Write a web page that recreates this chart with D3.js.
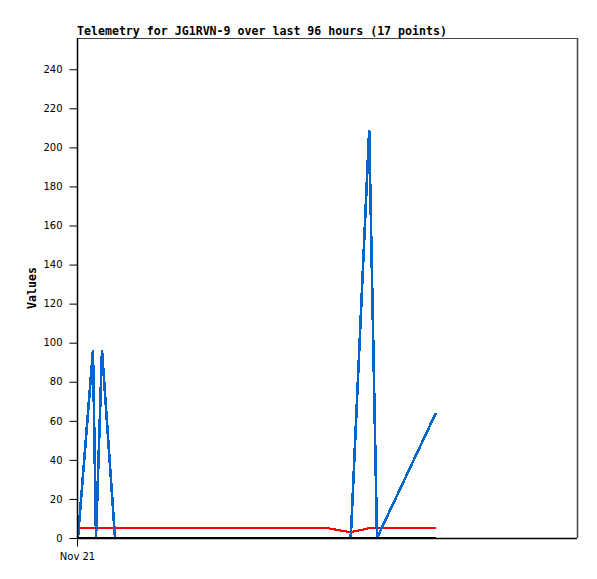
<!DOCTYPE html>
<html>
<head>
<meta charset="utf-8">
<script src="https://cdn.jsdelivr.net/npm/d3@7"></script>
<style>
  body { margin: 0; background: #fff; }
  svg { display: block; }
</style>
</head>
<body>
<svg id="chart" width="597" height="579"></svg>
<script>
// ---- data ----
const titleText = "Telemetry for JG1RVN-9 over last 96 hours (17 points)";
const yLabel = "Values";
const startTime = "2024-11-21T06:00:00";
const hoursSpan = 96;
const times = [
  "2024-11-21T06:11:00", "2024-11-21T09:04:00", "2024-11-21T09:39:00",
  "2024-11-21T10:48:00", "2024-11-21T13:18:00", "2024-11-21T19:20:00",
  "2024-11-22T01:05:00", "2024-11-22T06:50:00", "2024-11-22T13:35:00",
  "2024-11-22T19:20:00", "2024-11-23T01:05:00", "2024-11-23T06:12:00",
  "2024-11-23T10:24:00", "2024-11-23T10:36:00", "2024-11-23T14:06:00",
  "2024-11-23T15:36:00", "2024-11-24T02:54:00"
];
const blueValues  = [0, 96, 0, 96, 0, 0, 0, 0, 0, 0, 0, 0, 0, 2, 209, 0, 64];
const redValues   = [5, 5, 5, 5, 5, 5, 5, 5, 5, 5, 5, 5, 3, 3, 5, 5, 5];
const blackValues = [0, 0, 0, 0, 0, 0, 0, 0, 0, 0, 0, 0, 0, 0, 0, 0, 0];
const yTicks = [0, 20, 40, 60, 80, 100, 120, 140, 160, 180, 200, 220, 240];
const yMax = 256;
const xTickLabels = ["Nov 21"];

// ---- layout ----
const svg = d3.select("#chart");
const pL = 77, pR = 577, pT = 38, pB = 538;
const parse = d3.isoParse;
const t0 = parse(startTime);
const t1 = new Date(t0.getTime() + hoursSpan * 3600 * 1000);

const x = d3.scaleTime().domain([t0, t1]).range([pL, pR]);
const y = d3.scaleLinear().domain([0, yMax]).range([pB, pT]);

// frame top/right
svg.append("line").attr("x1", pL).attr("x2", pR).attr("y1", pT + 0.5).attr("y2", pT + 0.5)
  .attr("stroke", "#444").attr("stroke-width", 1);
svg.append("line").attr("x1", pR + 0.5).attr("x2", pR + 0.5).attr("y1", pT).attr("y2", pB)
  .attr("stroke", "#444").attr("stroke-width", 1.5);

const pts = times.map((t, i) => ({ t: parse(t), b: blueValues[i], r: redValues[i], k: blackValues[i] }));
const mk = key => d3.line().x(d => x(d.t)).y(d => y(d[key]));

svg.append("path").datum(pts).attr("d", mk("r")).attr("fill", "none")
  .attr("stroke", "#ff0000").attr("stroke-width", 2.2).attr("shape-rendering", "crispEdges");
svg.append("path").datum(pts).attr("d", mk("b")).attr("fill", "none")
  .attr("stroke", "#0066cc").attr("stroke-width", 2.6).attr("stroke-linejoin", "miter")
  .attr("shape-rendering", "crispEdges");
svg.append("path").datum(pts).attr("d", mk("k")).attr("fill", "none")
  .attr("stroke", "#000").attr("stroke-width", 2.2).attr("shape-rendering", "crispEdges");

// y axis
const yAxis = d3.axisLeft(y).tickValues(yTicks).tickSize(8).tickPadding(7).tickFormat(d3.format("d"));
const gy = svg.append("g").attr("transform", `translate(${pL + 0.5},0)`).call(yAxis);
gy.select(".domain").attr("stroke", "#000").attr("stroke-width", 1.5).attr("d", `M0,${pT}V${pB}`);
gy.selectAll(".tick line").attr("stroke", "#000");
gy.selectAll(".tick text").attr("font-family", "DejaVu Sans, sans-serif").attr("font-size", "10px").attr("fill", "#000");

// x axis
const xAxis = d3.axisBottom(x).tickValues([t0]).tickSize(8).tickPadding(6).tickFormat((d, i) => xTickLabels[i]);
const gx = svg.append("g").attr("transform", `translate(0,${pB + 0.5})`).call(xAxis);
gx.select(".domain").attr("stroke", "#000").attr("stroke-width", 1.5).attr("d", `M${pL},0H${pR}`);
gx.selectAll(".tick line").attr("stroke", "#000");
gx.selectAll(".tick text").attr("font-family", "DejaVu Sans, sans-serif").attr("font-size", "10px").attr("fill", "#000");

// title
svg.append("text").attr("x", pL).attr("y", 35).text(titleText)
  .attr("font-family", "DejaVu Sans Mono, monospace").attr("font-weight", "bold")
  .attr("font-size", "11.6px").attr("fill", "#000");

// y label
svg.append("text").attr("transform", `translate(36,${(pT + pB) / 2}) rotate(-90)`)
  .attr("text-anchor", "middle").text(yLabel)
  .attr("font-family", "DejaVu Sans Mono, monospace").attr("font-weight", "bold")
  .attr("font-size", "11.6px").attr("fill", "#000");
</script>
</body>
</html>
